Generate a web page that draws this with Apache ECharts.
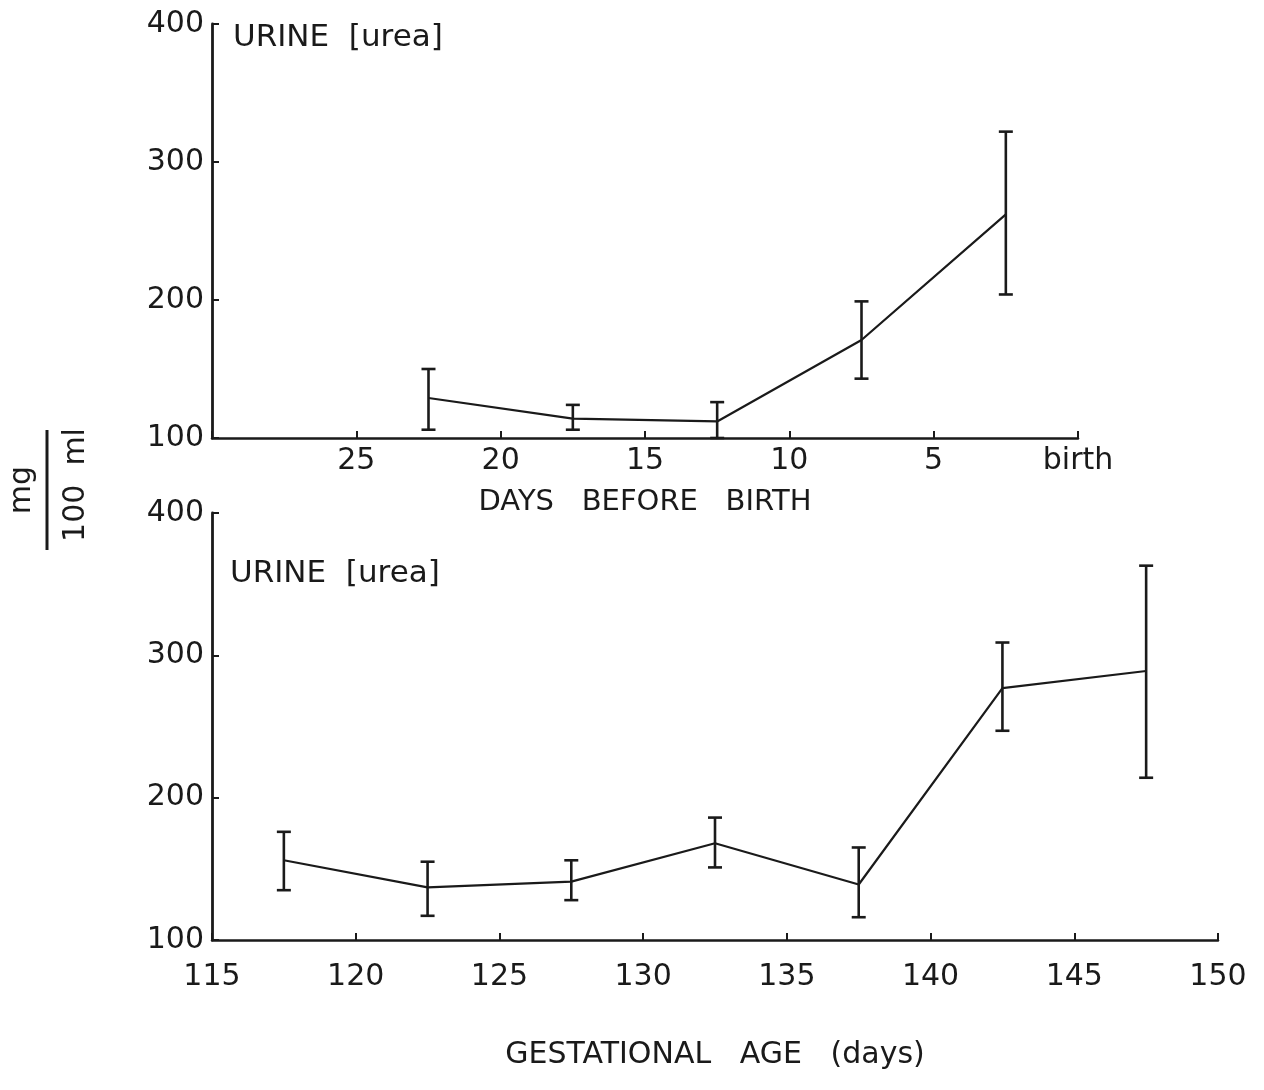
<!DOCTYPE html>
<html>
<head>
<meta charset="utf-8">
<script src="https://cdn.jsdelivr.net/npm/echarts@6/dist/echarts.min.js"></script>
<style>
html,body{margin:0;padding:0;background:#fff;}
#c{width:1264px;height:1090px;}
</style>
</head>
<body>
<div id="c"></div>
<script>
// ---- Top panel: days before birth ----
var topDays = [22.5, 17.5, 12.5, 7.5, 2.5];
var topMean = [129, 114, 112, 171, 262];
var topLow  = [106, 106, 100, 143, 204];
var topHigh = [150, 124, 126, 199, 322];
var topXTicks = [30, 25, 20, 15, 10, 5, 0];
var topXLabels = ['', '25', '20', '15', '10', '5', 'birth'];

// ---- Bottom panel: gestational age ----
var botAge  = [117.5, 122.5, 127.5, 132.5, 137.5, 142.5, 147.5];
var botMean = [156, 137, 141, 168, 139, 277, 289];
var botLow  = [135, 117, 128, 151, 116, 247, 214];
var botHigh = [176, 155, 156, 186, 165, 309, 363];

var yTicks = [100, 200, 300, 400];

var FONT = 'DejaVu Sans';
var INK = '#1a1a1a';

function pairs(xs, ys){ return xs.map(function(x,i){ return [x, ys[i]]; }); }
function triples(xs, lo, hi){ return xs.map(function(x,i){ return [x, lo[i], hi[i]]; }); }

function errRender(params, api){
  var x = api.value(0);
  var p1 = api.coord([x, api.value(1)]);
  var p2 = api.coord([x, api.value(2)]);
  var w = 7;
  var st = {stroke: INK, lineWidth: 2.6};
  return {type:'group', children:[
    {type:'line', shape:{x1:p1[0], y1:p1[1], x2:p2[0], y2:p2[1]}, style:st},
    {type:'line', shape:{x1:p1[0]-w, y1:p1[1], x2:p1[0]+w, y2:p1[1]}, style:st},
    {type:'line', shape:{x1:p2[0]-w, y1:p2[1], x2:p2[0]+w, y2:p2[1]}, style:st}
  ]};
}

var xAxisLine = {show:true, onZero:false, lineStyle:{color:INK, width:2.5}};
var yAxisLine = {show:true, onZero:false, lineStyle:{color:INK, width:2.8}};
var tickStyle = {show:true, inside:true, length:7, lineStyle:{color:INK, width:2}};
var labelBase = {color:INK, fontFamily:FONT, fontSize:30};

var chart = echarts.init(document.getElementById('c'));
chart.setOption({
  backgroundColor:'#ffffff',
  animation:false,
  grid:[
    {left:212, top:24, width:866, height:414},
    {left:212, top:513, width:1006, height:427}
  ],
  xAxis:[
    {gridIndex:0, type:'value', min:0, max:30, interval:5, inverse:true, position:'bottom',
     axisLine:xAxisLine, axisTick:tickStyle, splitLine:{show:false},
     axisLabel:Object.assign({}, labelBase, {margin:8,
       formatter:function(v){ var i = topXTicks.indexOf(v); return i>=0 ? topXLabels[i] : ''; }}),
     name:'DAYS   BEFORE   BIRTH', nameLocation:'middle', nameGap:50,
     nameTextStyle:{color:INK, fontFamily:FONT, fontSize:29}},
    {gridIndex:1, type:'value', min:115, max:150, interval:5, position:'bottom',
     axisLine:xAxisLine, axisTick:tickStyle, splitLine:{show:false},
     axisLabel:Object.assign({}, labelBase, {margin:22}),
     name:'GESTATIONAL   AGE   (days)', nameLocation:'middle', nameGap:100,
     nameTextStyle:{color:INK, fontFamily:FONT, fontSize:30}}
  ],
  yAxis:[
    {gridIndex:0, type:'value', min:100, max:400, interval:100, position:'left',
     axisLine:yAxisLine, axisTick:tickStyle, splitLine:{show:false},
     axisLabel:Object.assign({}, labelBase, {margin:8,
       formatter:function(v){ return yTicks.indexOf(v)>=0 ? String(v) : ''; }})},
    {gridIndex:1, type:'value', min:100, max:400, interval:100, position:'left',
     axisLine:yAxisLine, axisTick:tickStyle, splitLine:{show:false},
     axisLabel:Object.assign({}, labelBase, {margin:8,
       formatter:function(v){ return yTicks.indexOf(v)>=0 ? String(v) : ''; }})}
  ],
  series:[
    {type:'line', xAxisIndex:0, yAxisIndex:0, data:pairs(topDays, topMean),
     showSymbol:false, lineStyle:{color:INK, width:2.2}, z:3},
    {type:'custom', xAxisIndex:0, yAxisIndex:0, data:triples(topDays, topLow, topHigh),
     renderItem:errRender, z:4},
    {type:'line', xAxisIndex:1, yAxisIndex:1, data:pairs(botAge, botMean),
     showSymbol:false, lineStyle:{color:INK, width:2.2}, z:3},
    {type:'custom', xAxisIndex:1, yAxisIndex:1, data:triples(botAge, botLow, botHigh),
     renderItem:errRender, z:4}
  ],
  graphic:[
    {type:'text', left:233, top:22, style:{text:'URINE  [urea]', font:'31px "DejaVu Sans"', fill:INK}},
    {type:'text', left:230, top:558, style:{text:'URINE  [urea]', font:'31px "DejaVu Sans"', fill:INK}},
    {type:'text', x:22, y:490, rotation:Math.PI/2,
     style:{text:'mg', font:'30px "DejaVu Sans"', fill:INK, align:'center', verticalAlign:'middle'}},
    {type:'line', shape:{x1:47, y1:430, x2:47, y2:550}, style:{stroke:INK, lineWidth:3}},
    {type:'text', x:76, y:485, rotation:Math.PI/2,
     style:{text:'100  ml', font:'30px "DejaVu Sans"', fill:INK, align:'center', verticalAlign:'middle'}}
  ]
});
</script>
</body>
</html>
